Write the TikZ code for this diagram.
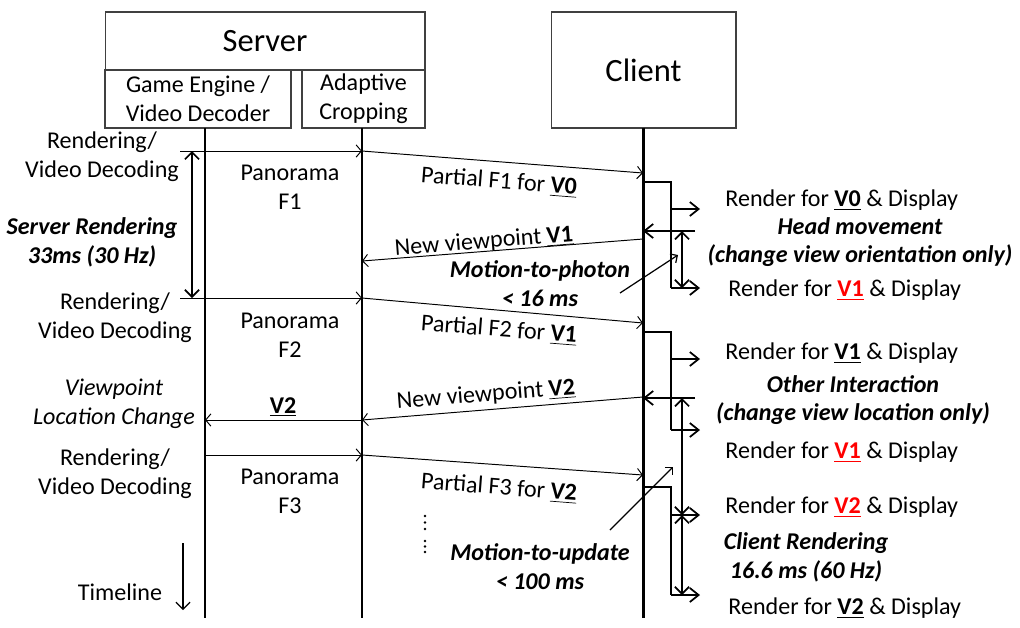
\documentclass[tikz,border=0pt]{standalone}
\usepackage{fontspec}
\setmainfont{Carlito}
\usetikzlibrary{arrows.meta}

\newcommand{\vb}[1]{\underline{\textbf{#1}}}
\newcommand{\vr}[1]{\textcolor{red}{\underline{\textbf{#1}}}}

\begin{document}
\begin{tikzpicture}[x=0.02cm, y=-0.02cm,
  every node/.style={font=\fontsize{13.7}{16.4}\selectfont},
  box/.style={draw=black!75, line width=0.6pt, align=center, inner sep=0pt},
  title/.style={font=\fontsize{18.5}{22}\selectfont},
  life/.style={line width=1.7pt},
  msg/.style={line width=0.55pt, -{Straight Barb[length=3pt,width=7pt]}},
  tick/.style={line width=1pt},
  render/.style={tick, -{Straight Barb[length=5pt,width=8pt]}},
  span/.style={tick, {Straight Barb[length=4pt,width=8pt]}-{Straight Barb[length=4pt,width=8pt]}},
  hint/.style={line width=0.7pt, -{Straight Barb[length=3pt,width=6pt]}},
  note/.style={align=center, font=\fontsize{13.7}{16.4}\selectfont\bfseries\itshape},
  lbl/.style={align=center, inner sep=0pt}]
\useasboundingbox (0,0) rectangle (1020,627);

% --- heads
\node[box, title, minimum width=6.4cm, minimum height=1.16cm] (server) at (265,41) {Server};
\node[box, minimum width=3.72cm, minimum height=1.16cm] (engine) at (198,99) {Game Engine /\\Video Decoder};
\node[box, minimum width=2.46cm, minimum height=1.16cm] (crop) at (363.5,99) {Adaptive\\Cropping};
\node[box, title, minimum width=3.7cm, minimum height=2.32cm] (client) at (643.5,70) {Client};

% --- lifelines
\coordinate (geTop) at (205,128); \coordinate (geEnd) at (205,618);
\coordinate (acTop) at (362,128); \coordinate (acEnd) at (362,618);
\coordinate (clTop) at (643,128); \coordinate (clEnd) at (643,618);
\draw[life] (geTop) -- (geEnd);
\draw[life] (acTop) -- (acEnd);
\draw[life] (clTop) -- (clEnd);

% --- frames server -> client
\coordinate (s1) at (180,151); \coordinate (a1) at (362,151); \coordinate (c1) at (643,173);
\coordinate (s2) at (180,298); \coordinate (a2) at (362,298); \coordinate (c2) at (643,323);
\coordinate (s3) at (205,455); \coordinate (a3) at (362,455); \coordinate (c3) at (643,475);
\draw[msg] (s1) -- (a1); \draw[msg] (a1) -- (c1);
\draw[msg] (s2) -- (a2); \draw[msg] (a2) -- (c2);
\draw[msg] (s3) -- (a3); \draw[msg] (a3) -- (c3);

% --- viewpoints client -> server
\coordinate (c4) at (643,239); \coordinate (a4) at (362,261);
\coordinate (c5) at (643,397); \coordinate (a5) at (362,420); \coordinate (g5) at (205,420);
\draw[msg] (c4) -- (a4);
\draw[msg] (c5) -- (a5); \draw[msg] (a5) -- (g5);

% --- server rendering span
\coordinate (r1) at (192,151); \coordinate (r2) at (192,298);
\draw[span] (r1) -- (r2);

% --- client steps
\coordinate (k1) at (643,182); \coordinate (k1b) at (671,182);
\coordinate (d1) at (671,209); \coordinate (d1e) at (700,209);
\coordinate (d2) at (671,288); \coordinate (d2e) at (700,288);
\draw[tick] (k1) -- (k1b) -- (d2);
\draw[render] (d1) -- (d1e); \draw[render] (d2) -- (d2e);

\coordinate (k2) at (643,332); \coordinate (k2b) at (671,332);
\coordinate (d3) at (671,359); \coordinate (d3e) at (700,359);
\coordinate (d4) at (671,430); \coordinate (d4e) at (700,430);
\draw[tick] (k2) -- (k2b) -- (d4);
\draw[render] (d3) -- (d3e); \draw[render] (d4) -- (d4e);

\coordinate (k3) at (643,487); \coordinate (k3b) at (671,487);
\coordinate (d5) at (671,515); \coordinate (d5e) at (700,515);
\coordinate (d6) at (671,595); \coordinate (d6e) at (700,595);
\draw[tick] (k3) -- (k3b) -- (d6);
\draw[render] (d5) -- (d5e); \draw[render] (d6) -- (d6e);

% --- user events + latency spans
\coordinate (e1) at (695,231); \coordinate (e1c) at (643,231);
\coordinate (e2) at (695,398); \coordinate (e2c) at (643,398);
\draw[render] (e1) -- (e1c);
\draw[render] (e2) -- (e2c);
\coordinate (p1) at (682,231); \coordinate (p2) at (682,288);
\coordinate (q1) at (682,398); \coordinate (q2) at (682,515); \coordinate (q3) at (682,595);
\draw[span] (p1) -- (p2);
\draw[span] (q1) -- (q2);
\draw[span] (q2) -- (q3);

% --- pointers
\coordinate (h1) at (620,293); \coordinate (h1e) at (678,255);
\coordinate (h2) at (610,530); \coordinate (h2e) at (673,467);
\draw[hint] (h1) -- (h1e);
\draw[hint] (h2) -- (h2e);

% --- left labels
\node[lbl] (rv1) at (102,157) {Rendering/\\Video Decoding};
\node[lbl, note] (srv) at (92,242) {Server Rendering\\33ms (30 Hz)};
\node[lbl] (rv2) at (115,318) {Rendering/\\Video Decoding};
\node[lbl, font=\fontsize{13.7}{16.4}\selectfont\itshape] (vlc) at (114,404) {Viewpoint\\Location Change};
\node[lbl] (rv3) at (115,474) {Rendering/\\Video Decoding};
\node[lbl] (tl) at (120,592) {Timeline};
\coordinate (t1) at (183,543); \coordinate (t2) at (183,610);
\draw[line width=0.7pt, -{Straight Barb[length=4pt,width=8pt]}] (t1) -- (t2);

% --- middle labels
\node[lbl] (pf1) at (290,187) {Panorama\\F1};
\node[lbl] (pf2) at (290,335) {Panorama\\F2};
\node[lbl] (pf3) at (290,491) {Panorama\\F3};
\node[lbl] (v2s) at (283,407) {\vb{V2}};
\node[lbl, rotate=-4.5] (f1) at (499,182) {Partial F1 for \vb{V0}};
\node[lbl, rotate=4.5] (nv1) at (484,242) {New viewpoint \vb{V1}};
\node[lbl, rotate=-4.5] (f2) at (499,330) {Partial F2 for \vb{V1}};
\node[lbl, rotate=4.5] (nv2) at (486,395) {New viewpoint \vb{V2}};
\node[lbl, rotate=-4.5] (f3) at (499,488) {Partial F3 for \vb{V2}};
\node[lbl, note] (mtp) at (540,284) {Motion-to-photon\\< 16 ms};
\node[lbl, note] (mtu) at (540,567) {Motion-to-update\\< 100 ms};
\foreach \y in {516,522.5,529,541,546.5,552} \fill (425,\y) circle (1.3);

% --- right labels
\node[lbl, anchor=west] (rd1) at (725,200) {Render for \vb{V0} \& Display};
\node[lbl, note] (hm) at (860,242) {Head movement\\(change view orientation only)};
\node[lbl, anchor=west] (rd2) at (728,290) {Render for \vr{V1} \& Display};
\node[lbl, anchor=west] (rd3) at (725,353) {Render for \vb{V1} \& Display};
\node[lbl, note] (oi) at (853,400) {Other Interaction\\(change view location only)};
\node[lbl, anchor=west] (rd4) at (725,452) {Render for \vr{V1} \& Display};
\node[lbl, anchor=west] (rd5) at (725,507) {Render for \vr{V2} \& Display};
\node[lbl, note] (cr) at (806,557) {Client Rendering\\16.6 ms (60 Hz)};
\node[lbl, anchor=west] (rd6) at (728,608) {Render for \vb{V2} \& Display};
\end{tikzpicture}
\end{document}
